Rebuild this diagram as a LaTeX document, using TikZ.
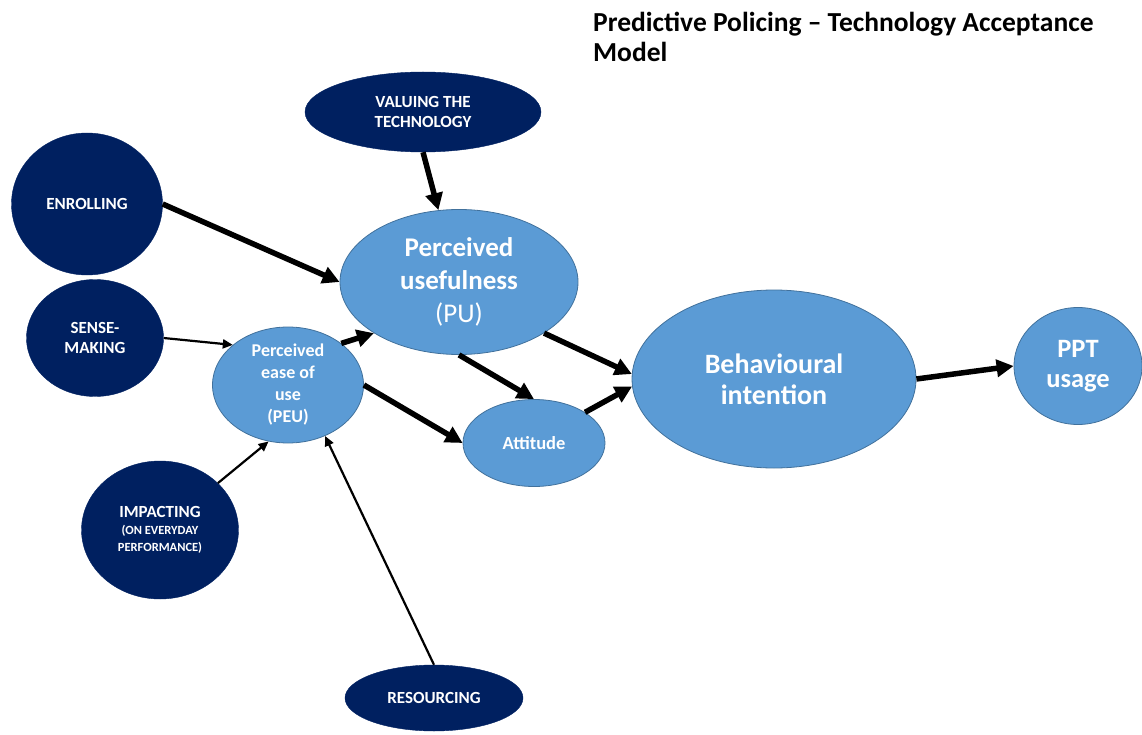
\documentclass[tikz,border=0pt]{standalone}
\usepackage{fontspec}
\setmainfont{Carlito}
\usetikzlibrary{arrows.meta,shapes}
\definecolor{navy}{HTML}{002060}
\definecolor{skyblue}{HTML}{5B9BD5}
\definecolor{skyline}{HTML}{41719C}
\newcommand{\tinycaps}{\fontsize{12.5}{15}\selectfont}

\begin{document}
\begin{tikzpicture}[x=1pt,y=-1pt]
        \tikzstyle{factor}=[ellipse, fill=navy, draw=navy, inner sep=0pt, align=center, text=white, font=\bfseries\fontsize{17}{20}\selectfont]
        \tikzstyle{tam}=[ellipse, fill=skyblue, draw=skyline, line width=0.8pt, inner sep=0pt, align=center, text=white, font=\bfseries\fontsize{18}{22}\selectfont]
        \tikzstyle{bigarrow}=[line width=5.5pt, -{Triangle[length=17pt,width=17pt]}]
        \tikzstyle{smallarrow}=[line width=2.2pt, -{Triangle[length=10pt,width=9pt]}]
        \useasboundingbox (0,0) rectangle (1142,735);
        \node [anchor=north west, inner sep=0pt, align=left, font=\bfseries\fontsize{27.5}{30}\selectfont] (title) at (593,12) {Predictive Policing – Technology Acceptance\\Model};
        \begin{scope}
          \node [factor, minimum width=236pt, minimum height=80pt] (valuing) at (423,112) {VALUING THE\\TECHNOLOGY};
          \node [factor, minimum width=151pt, minimum height=142pt] (enrolling) at (87,204) {ENROLLING};
          \node [factor, minimum width=137pt, minimum height=117pt] (sense) at (95,338) {SENSE-\\MAKING};
          \node [factor, minimum width=157pt, minimum height=138pt] (impacting) at (160,530) {IMPACTING\\[-3pt]{\tinycaps (ON EVERYDAY}\\[-3pt]{\tinycaps PERFORMANCE)}};
          \node [factor, minimum width=178pt, minimum height=66pt] (resourcing) at (434,698) {RESOURCING};
          \node [tam, minimum width=238pt, minimum height=145pt, font=\bfseries\fontsize{27}{33}\selectfont] (pu) at (459,282) {Perceived\\usefulness\\\textmd{(PU)}};
          \node [tam, minimum width=151pt, minimum height=116pt, inner ysep=-8pt] (peu) at (288,385) {Perceived\\ease of\\use\\(PEU)};
          \node [tam, minimum width=142pt, minimum height=87pt, font=\bfseries\fontsize{18.5}{22}\selectfont] (attitude) at (534,443) {Attitude};
          \node [tam, minimum width=284pt, minimum height=178pt, font=\bfseries\fontsize{28}{31}\selectfont] (intention) at (774,379) {Behavioural\\intention};
          \node [tam, minimum width=128pt, minimum height=117pt, font=\bfseries\fontsize{26.5}{30}\selectfont] (usage) at (1078,366) {PPT\\usage};
        \end{scope}
        \draw [bigarrow] (valuing.south) -- (pu.106);
        \draw [bigarrow] (enrolling.east) -- (pu.west);
        \draw [smallarrow] (sense.east) -- (peu.144);
        \draw [bigarrow] (peu.38) -- (pu.211);
        \draw [bigarrow] (pu.south) -- (attitude.north);
        \draw [bigarrow] (pu.329) -- (intention.178);
        \draw [bigarrow] (peu.east) -- (attitude.west);
        \draw [bigarrow] (attitude.31) -- (intention.183);
        \draw [bigarrow] (intention.east) -- (usage.west);
        \draw [smallarrow] (impacting.39) -- (peu.251);
        \draw [smallarrow] (resourcing.north) -- (peu.306);
      \end{tikzpicture}
\end{document}
